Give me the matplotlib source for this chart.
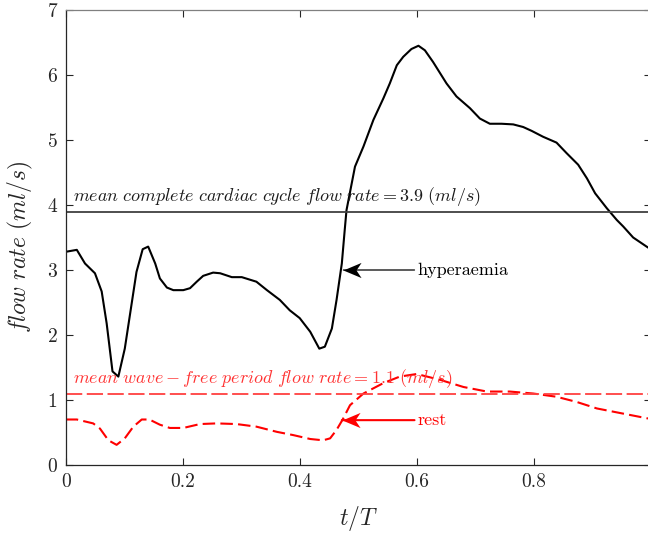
import matplotlib
matplotlib.use("Agg")
import matplotlib.pyplot as plt
from matplotlib.path import Path

plt.rcParams['font.family'] = 'serif'
plt.rcParams['font.serif'] = ['cmr10']
plt.rcParams['mathtext.fontset'] = 'cm'
plt.rcParams['axes.formatter.use_mathtext'] = True

# hyperaemia flow (black solid)
t_hyp = [0.000, 0.019, 0.033, 0.050, 0.0615, 0.070, 0.080, 0.090, 0.101, 0.121, 0.1316, 0.141,
         0.153, 0.161, 0.173, 0.184, 0.201, 0.2125, 0.224, 0.235, 0.252, 0.264, 0.284, 0.301,
         0.326, 0.344, 0.366, 0.383, 0.400, 0.418, 0.4335, 0.443, 0.455, 0.463, 0.472, 0.477,
         0.480, 0.4945, 0.509, 0.526, 0.543, 0.554, 0.566, 0.577, 0.591, 0.603, 0.614, 0.628,
         0.651, 0.668, 0.691, 0.708, 0.725, 0.745, 0.765, 0.782, 0.7966, 0.816, 0.839, 0.856,
         0.876, 0.891, 0.905, 0.925, 0.942, 0.953, 0.970, 0.993, 1.000]
q_hyp = [3.28, 3.31, 3.10, 2.95, 2.67, 2.18, 1.44, 1.36, 1.79, 2.97, 3.32, 3.36,
         3.10, 2.87, 2.73, 2.69, 2.69, 2.72, 2.82, 2.91, 2.96, 2.95, 2.89, 2.89,
         2.82, 2.69, 2.54, 2.38, 2.26, 2.05, 1.79, 1.82, 2.10, 2.54, 3.10, 3.62,
         3.92, 4.59, 4.90, 5.31, 5.64, 5.87, 6.15, 6.28, 6.40, 6.45, 6.38, 6.20,
         5.87, 5.67, 5.49, 5.33, 5.25, 5.25, 5.24, 5.20, 5.14, 5.05, 4.96, 4.80,
         4.62, 4.41, 4.18, 3.95, 3.77, 3.67, 3.50, 3.36, 3.32]

# rest flow (red dashed)
t_rest = [0.000, 0.019, 0.047, 0.0586, 0.073, 0.087, 0.101, 0.1156, 0.130, 0.143, 0.161, 0.178,
          0.201, 0.2296, 0.258, 0.292, 0.326, 0.361, 0.389, 0.418, 0.440, 0.452, 0.463, 0.4735,
          0.486, 0.509, 0.543, 0.571, 0.600, 0.640, 0.680, 0.720, 0.759, 0.799, 0.839, 0.8735,
          0.908, 0.9475, 0.993, 1.000]
q_rest = [0.70, 0.70, 0.64, 0.56, 0.38, 0.31, 0.41, 0.59, 0.70, 0.70, 0.62, 0.57,
          0.57, 0.63, 0.64, 0.63, 0.59, 0.51, 0.46, 0.40, 0.38, 0.41, 0.54, 0.70,
          0.92, 1.10, 1.26, 1.36, 1.40, 1.31, 1.20, 1.13, 1.13, 1.10, 1.05, 0.97,
          0.87, 0.80, 0.72, 0.71]

mean_full = 3.9
mean_wf = 1.1
x_ticks = [0, 0.2, 0.4, 0.6, 0.8, 1]
y_ticks = [0, 1, 2, 3, 4, 5, 6, 7]

# annotation anchors (tip of arrow, start of label)
hyp_tip, hyp_text, hyp_y = 0.4746, 0.601, 3.0
rest_tip, rest_text, rest_y = 0.472, 0.601, 0.69

fig = plt.figure(figsize=(6.48, 5.35), dpi=100)
ax = fig.add_axes([65.7/648, 70/535, 585/648, 455/535])

red = '#ff0000'
ax.plot(t_hyp, q_hyp, color='k', lw=1.5)
ax.plot(t_rest, q_rest, color=red, lw=1.5, dashes=(6, 2.5))
ax.axhline(mean_full, color='#404040', lw=1.3)
ax.axhline(mean_wf, color='#ff4040', lw=1.3, dashes=(9, 2.5))

ax.text(0.012, mean_full + 0.06, r'$mean\ complete\ cardiac\ cycle\ flow\ rate = 3.9\ (ml/s)$',
        fontsize=13, color='#1a1a1a', va='bottom', ha='left')
ax.text(0.012, mean_wf + 0.06, r'$mean\ wave-free\ period\ flow\ rate = 1.1\ (ml/s)$',
        fontsize=13, color='#ff3333', va='bottom', ha='left')

# concave arrow head marker, tip at origin pointing left
head = Path([(0, 0), (1, 0.42), (0.72, 0), (1, -0.42), (0, 0)],
            [Path.MOVETO, Path.LINETO, Path.LINETO, Path.LINETO, Path.CLOSEPOLY])

ax.annotate('hyperaemia', xy=(hyp_tip, hyp_y), xytext=(hyp_text, hyp_y), fontsize=13,
            color='k', va='center', ha='left',
            arrowprops=dict(arrowstyle='-', color='k', lw=0.9, shrinkA=0, shrinkB=0))
ax.plot([hyp_tip], [hyp_y], marker=head, ms=26, color='k', mew=0, ls='none')

ax.annotate('rest', xy=(rest_tip, rest_y), xytext=(rest_text, rest_y), fontsize=13,
            color=red, va='center', ha='left',
            arrowprops=dict(arrowstyle='-', color=red, lw=1.5, shrinkA=0, shrinkB=0))
ax.plot([rest_tip], [rest_y], marker=head, ms=26, color=red, mew=0, ls='none')

ax.set_xlim(0, 1)
ax.set_ylim(0, 7)
ax.set_xticks(x_ticks)
ax.set_yticks(y_ticks)
ax.set_xticklabels(['0', '0.2', '0.4', '0.6', '0.8', '1'])
ax.set_yticklabels([str(v) for v in y_ticks])
ax.tick_params(direction='in', top=True, right=True, length=5, width=0.8,
               labelsize=14, colors='#262626', pad=6)
for s in ax.spines.values():
    s.set_color('#262626')
    s.set_linewidth(0.9)
ax.spines['top'].set_color('#808080')

ax.set_xlabel(r'$t/T$', fontsize=17, color='#262626', labelpad=9)
ax.set_ylabel(r'$flow\ rate\ (ml/s)$', fontsize=17, color='#262626', labelpad=6)
ax.yaxis.set_label_coords(-0.053, 0.48)

fig.savefig('out.png', dpi=100)
